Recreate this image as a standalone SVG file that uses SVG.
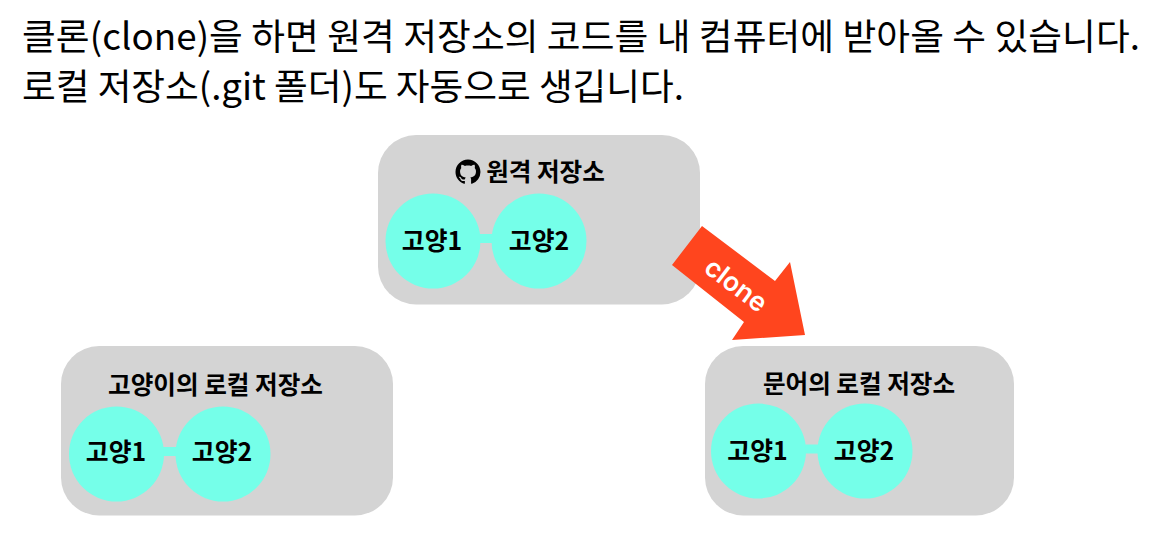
<svg xmlns="http://www.w3.org/2000/svg" width="1152" height="541" viewBox="0 0 1152 541">
<style>
text{font-family:"Noto Sans CJK KR","Noto Sans",sans-serif;fill:#000}
.h{font-size:36.7px}
.t{font-size:24.6px;font-weight:700;text-anchor:middle}
.n{font-size:24.800px;font-weight:700;text-anchor:middle}
.box{fill:#d4d4d4}
.c{fill:#75ffe9}
</style>
<rect width="1152" height="541" fill="#fff"/>
<text class="h" x="22" y="50" textLength="1118">클론(clone)을 하면 원격 저장소의 코드를 내 컴퓨터에 받아올 수 있습니다.</text>
<text class="h" x="22" y="100" textLength="662">로컬 저장소(.git 폴더)도 자동으로 생깁니다.</text>
<g id="remote">
<rect class="box" x="378" y="135" width="322" height="169.500" rx="38"/>
<text class="t" x="545.500" y="181">원격 저장소</text>
<path transform="translate(455.500 159.500) scale(1.56)" fill="#000" fill-rule="evenodd" d="M8 0C3.580 0 0 3.580 0 8c0 3.540 2.290 6.530 5.470 7.590.4.070.55-.17.55-.38 0-.19-.01-.82-.01-1.490-2.010.37-2.530-.49-2.690-.94-.09-.23-.48-.94-.82-1.130-.28-.15-.68-.52-.01-.53.630-.01 1.080.580 1.230.820.720 1.210 1.870.870 2.330.660.070-.520.280-.870.510-1.070-1.780-.2-3.640-.890-3.640-3.950 0-.870.310-1.590.820-2.150-.080-.2-.360-1.020.080-2.120 0 0 .670-.210 2.200.820.640-.180 1.320-.270 2-.270s1.360.090 2 .270c1.530-1.040 2.200-.820 2.200-.820.440 1.100.160 1.920.080 2.120.510.560.820 1.270.820 2.150 0 3.070-1.870 3.750-3.650 3.950.290.250.540.730.540 1.480 0 1.070-.010 1.930-.010 2.200 0 .210.150.460.550.380A8.010 8.010 0 0 0 16 8c0-4.420-3.580-8-8-8z"/>
<rect class="c" x="470" y="234" width="30" height="9"/>
<circle class="c" cx="433" cy="241" r="47.500"/><text class="n" x="432" y="250">고양1</text>
<circle class="c" cx="539" cy="241" r="47.500"/><text class="n" x="539" y="250">고양2</text>
</g>
<g id="cat">
<rect class="box" x="61" y="346" width="332" height="169.500" rx="38"/>
<text class="t" x="215.500" y="394">고양이의 로컬 저장소</text>
<rect class="c" x="155" y="447" width="30" height="9"/>
<circle class="c" cx="116.500" cy="454" r="47.500"/><text class="n" x="116" y="461">고양1</text>
<circle class="c" cx="223" cy="454" r="47.500"/><text class="n" x="222" y="461">고양2</text>
</g>
<g id="octopus">
<rect class="box" x="705" y="346" width="309" height="169.500" rx="38"/>
<text class="t" x="859" y="393">문어의 로컬 저장소</text>
<rect class="c" x="800" y="444.500" width="30" height="9"/>
<circle class="c" cx="758.500" cy="451" r="47.500"/><text class="n" x="757.500" y="460">고양1</text>
<circle class="c" cx="865" cy="451" r="47.500"/><text class="n" x="864" y="460">고양2</text>
</g>
<g id="connectors">
<polygon points="702,226 672,265 744,322 732,340 805,335 790,262 775,281" fill="#ff451e"/>
<text x="736" y="294" transform="rotate(37 736 285)" font-size="26.500" font-weight="600" text-anchor="middle" style="fill:#fff;font-family:'Inter','Liberation Sans',sans-serif">clone</text>
</g>
</svg>
